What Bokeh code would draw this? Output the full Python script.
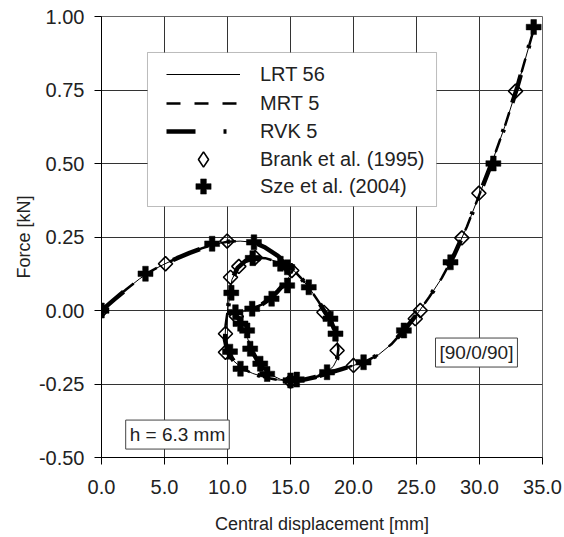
from bokeh.plotting import figure
from bokeh.models import (Legend, LegendItem, Label, BoxAnnotation, FixedTicker,
                          NumeralTickFormatter, Range1d)
from bokeh.embed import file_html
from bokeh.resources import INLINE

FONT = "Liberation Sans"

# ---------------- data ----------------
x_ticks = [0, 5, 10, 15, 20, 25, 30, 35]
y_ticks = [-0.5, -0.25, 0.0, 0.25, 0.5, 0.75, 1.0]

# numerical equilibrium path (central displacement [mm], force [kN])
lrt56_x = [0, 1, 2, 3, 4, 5, 6, 7, 8, 9, 10, 11, 12.1,
           13.0, 14.0, 15.0, 15.8, 16.5, 17.2, 17.7, 18.2, 18.6, 18.8, 18.7, 18.4, 17.9, 17.0, 16.0, 15.0,
           14.0, 13.0, 12.0, 11.2, 10.5, 10.0, 9.8, 9.85, 10.05, 10.2, 10.35, 10.8, 11.4, 12.2, 13.0, 13.8, 14.6, 15.2,
           14.7, 14.0, 13.4, 12.7, 12.0, 11.3, 10.8, 10.9, 11.3, 11.6, 11.85, 12.3, 12.8, 13.4, 14.2, 15.0,
           16, 17, 18, 19, 20, 21, 22, 23, 24, 25, 26, 27, 28, 29, 30, 31, 32, 33, 34, 34.4]
lrt56_y = [0, 0.037, 0.073, 0.107, 0.136, 0.158, 0.178, 0.196, 0.212, 0.225, 0.234, 0.236, 0.232,
           0.214, 0.186, 0.148, 0.112, 0.076, 0.032, -0.003, -0.035, -0.078, -0.13, -0.165, -0.19, -0.209, -0.226, -0.236, -0.240,
           -0.236, -0.228, -0.214, -0.198, -0.172, -0.14, -0.10, -0.05, 0.01, 0.06, 0.105, 0.145, 0.168, 0.18, 0.178, 0.168, 0.153, 0.138,
           0.10, 0.066, 0.04, 0.02, 0.007, -0.003, -0.015, -0.04, -0.065, -0.095, -0.13, -0.165, -0.195, -0.218, -0.234, -0.240,
           -0.236, -0.226, -0.213, -0.200, -0.187, -0.172, -0.150, -0.115, -0.068, -0.015, 0.045, 0.11, 0.19, 0.285, 0.395, 0.505, 0.625, 0.76, 0.91, 0.97]
mrt5_x = list(lrt56_x)
mrt5_y = list(lrt56_y)
rvk5_x = list(lrt56_x)
rvk5_y = list(lrt56_y)

# Brank et al. (1995)
brank_x = [0, 5.08, 9.97, 10.24, 10.9, 12.2, 15.1, 17.65, 18.7, 15.0, 9.84, 9.84, 10.7,
           20.0, 24.9, 25.3, 28.6, 29.95, 32.86]
brank_y = [0, 0.159, 0.236, 0.113, 0.15, 0.18, 0.136, -0.006, -0.136, -0.24, -0.079, -0.142, -0.02,
           -0.187, -0.028, 0.0, 0.247, 0.399, 0.746]

# Sze et al. (2004)
sze_x = [0, 3.49, 8.78, 12.1, 12.0, 14.2, 14.74, 16.45, 14.74, 13.5, 11.96, 10.3, 10.63, 11.03,
         11.56, 18.17, 18.57, 10.2, 11.8, 11.03, 12.6, 13.15, 15.0, 15.5, 17.9, 20.8, 24.0,
         27.7, 31.1, 34.3]
sze_y = [0, 0.125, 0.227, 0.232, 0.178, 0.159, 0.147, 0.079, 0.085, 0.04, 0.006, 0.06, -0.006, -0.045,
         -0.068, -0.028, -0.079, -0.14, -0.13, -0.198, -0.181, -0.216, -0.238, -0.235, -0.21, -0.176, -0.068,
         0.164, 0.50, 0.964]

# ---------------- figure ----------------
p = figure(width=564, height=537, x_range=Range1d(0, 35), y_range=Range1d(-0.5, 1.0),
           output_backend="svg", toolbar_location=None,
           min_border_left=101, min_border_top=16, min_border_right=22, min_border_bottom=80)
p.background_fill_color = "white"
p.border_fill_color = "white"
p.outline_line_color = "#666666"
p.outline_line_width = 1

p.xaxis.ticker = FixedTicker(ticks=x_ticks)
p.yaxis.ticker = FixedTicker(ticks=y_ticks)
p.xgrid.ticker = FixedTicker(ticks=x_ticks)
p.ygrid.ticker = FixedTicker(ticks=y_ticks)
p.xaxis.formatter = NumeralTickFormatter(format="0.0")
p.yaxis.formatter = NumeralTickFormatter(format="0.00")
p.grid.grid_line_color = "#333333"
p.grid.grid_line_width = 1

for ax in (p.xaxis, p.yaxis):
    ax.axis_line_color = "black"
    ax.major_tick_line_color = "black"
    ax.major_tick_in = 0
    ax.major_tick_out = 7
    ax.minor_tick_line_color = None
    ax.major_label_text_font = FONT
    ax.major_label_text_font_size = "20px"
    ax.major_label_text_color = "#222222"
    ax.axis_label_text_font = FONT
    ax.axis_label_text_font_size = "18px"
    ax.axis_label_text_font_style = "normal"
    ax.axis_label_text_color = "#222222"

p.xaxis.axis_label = "Central displacement [mm]"
p.yaxis.axis_label = "Force [kN]"
p.xaxis.major_label_standoff = 15
p.xaxis.axis_label_standoff = 17
p.yaxis.major_label_standoff = 10
p.yaxis.axis_label_standoff = 2

r_lrt = p.line(lrt56_x, lrt56_y, line_color="black", line_width=1)
r_mrt = p.line(mrt5_x, mrt5_y, line_color="black", line_width=2.5, line_dash="14 14")
r_rvk = p.line(rvk5_x, rvk5_y, line_color="black", line_width=4.5, line_dash="29 28 3 28")
r_brank = p.scatter(brank_x, brank_y, marker="square", angle=0.785398, size=10,
                    line_color="black", line_width=1.6, fill_alpha=0)
r_sze = p.scatter(sze_x, sze_y, marker="plus", size=15, line_color="black", fill_color="black",
                  line_width=0.5)
# legend key for the open diamonds (the legend does not rotate markers); not drawn in the plot
r_brank_key = p.scatter(brank_x[:1], brank_y[:1], marker="diamond", size=14,
                        line_color="black", line_width=1.6, fill_alpha=0, visible=False)

# legend frame
box = BoxAnnotation(left=3.65, right=26.59, top=0.8776, bottom=0.3537,
                    fill_color="white", fill_alpha=1, line_color="#222222", line_width=1)
p.add_layout(box)

# one legend row per entry: (label, renderer, row height, offset of row bottom from frame bottom)
rows = [("LRT 56", r_lrt, 28, 369),
        ("MRT 5", r_mrt, 28, 340),
        ("RVK 5", r_rvk, 28, 312),
        ("Brank et al. (1995)", r_brank_key, 38, 279),
        ("Sze et al. (2004)", r_sze, 38, 252)]
for lab, rend, gh, vy in rows:
    lg = Legend(items=[LegendItem(label=lab, renderers=[rend])], location=(65, vy),
                glyph_width=74, glyph_height=gh, label_height=gh, spacing=0,
                padding=0, margin=0, label_standoff=20, label_text_font=FONT,
                label_text_font_size="20px", label_text_color="#222222",
                background_fill_alpha=0, border_line_alpha=0, inactive_fill_alpha=0)
    p.add_layout(lg, "center")

p.add_layout(Label(x=29.76, y=-0.143, text="[90/0/90]", text_align="center", text_baseline="middle",
                   text_font=FONT, text_font_size="19px", text_color="#222222",
                   border_line_color="#444444", background_fill_color="white", padding=4))
p.add_layout(Label(x=6.03, y=-0.422, text="h = 6.3 mm", text_align="center", text_baseline="middle",
                   text_font=FONT, text_font_size="19px", text_color="#222222",
                   border_line_color="#444444", background_fill_color="white", padding=4))

open("out.html", "w").write(file_html(p, INLINE))
